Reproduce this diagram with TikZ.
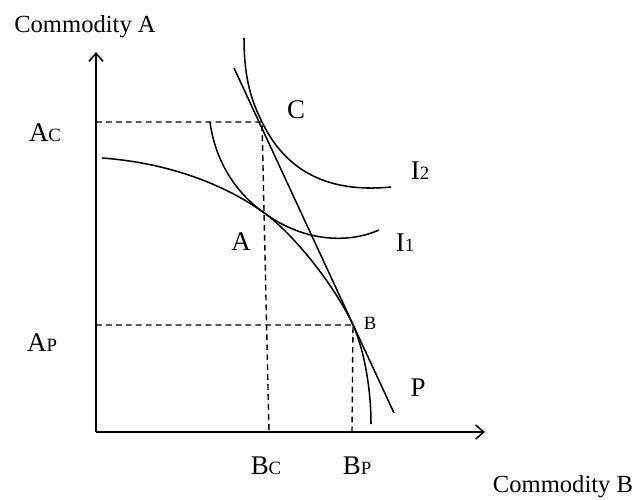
\documentclass[tikz,border=0pt]{standalone}
\usepackage{fontspec}
\setmainfont{Liberation Serif}
\usetikzlibrary{arrows.meta}
\begin{document}
\begin{tikzpicture}[x=0.03cm,y=-0.03cm,
  curve/.style={line width=1.3pt},
  axis/.style={line width=1.3pt,-{Straight Barb[length=7pt,width=12pt,line width=1.3pt]}},
  guide/.style={line width=1.2pt,dash pattern=on 5pt off 3.5pt},
  lab/.style={inner sep=0pt,font=\fontsize{23}{26}\selectfont},
  title/.style={inner sep=0pt,font=\fontsize{21}{24}\selectfont},
  small/.style={inner sep=0pt,font=\fontsize{16}{18}\selectfont}]
\useasboundingbox (0,0) rectangle (643,499);
% axes
\coordinate (O) at (96,432);
\coordinate (ytop) at (96,52);
\coordinate (xend) at (485,432);
\draw[axis] (O) -- (ytop);
\draw[axis] (O) -- (xend);
% key points
\coordinate (C) at (262,122);
\coordinate (A) at (263,212);
\coordinate (B) at (353,325);
\coordinate (yC) at (96,122);
\coordinate (yP) at (96,325);
\coordinate (xC) at (269,432);
\coordinate (xP) at (352,432);
% dashed guides
\draw[guide] (yC) -- (C) -- (xC);
\draw[guide] (yP) -- (B) -- (xP);
% production frontier P
\draw[curve] (102,158) .. controls (170,163) and (225,185) .. (A)
  .. controls (293,233) and (335,286) .. (B)
  .. controls (363,347) and (371,385) .. (371,424);
% budget line
\coordinate (L1) at (234,68);
\coordinate (L2) at (394,413);
\draw[curve] (L1) -- (L2);
% indifference curve I2
\draw[curve] (244,38) .. controls (244,75) and (250,98) .. (C)
  .. controls (290,180) and (340,192) .. (391,187);
% indifference curve I1
\draw[curve] (210,122) .. controls (215,160) and (235,192) .. (A)
  .. controls (300,240) and (345,245) .. (379,230);
% labels
\node[title] (tA) at (85,27) {Commodity A};
\node[title] (tB) at (563,487) {Commodity B};
\node[lab] (lAc) at (45,133) {A{\fontsize{16}{18}\selectfont C}};
\node[lab] (lAp) at (42,343) {A{\fontsize{16}{18}\selectfont P}};
\node[lab] (lBc) at (266,466) {B{\fontsize{16}{18}\selectfont C}};
\node[lab] (lBp) at (357,466) {B{\fontsize{16}{18}\selectfont P}};
\node[lab] (lC) at (296,110) {C};
\node[lab] (lA) at (241,242) {A};
\node[small] (lB) at (370,323) {B};
\node[lab] (lI2) at (420,171) {I{\fontsize{16}{18}\selectfont 2}};
\node[lab] (lI1) at (405,243) {I{\fontsize{16}{18}\selectfont 1}};
\node[lab] (lP) at (418,388) {P};
\end{tikzpicture}
\end{document}
